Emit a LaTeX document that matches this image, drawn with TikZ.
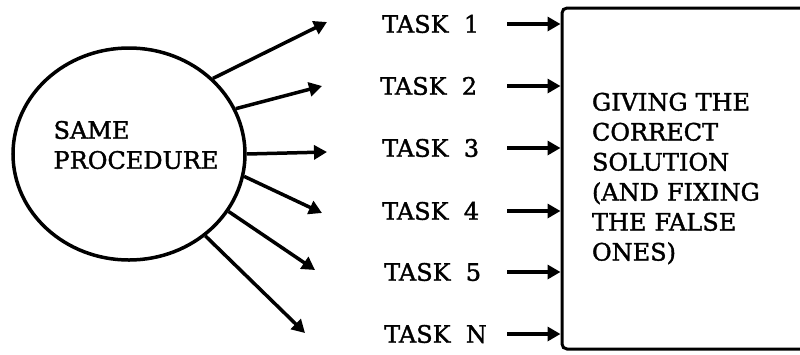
\documentclass[tikz,border=0pt]{standalone}
\usepackage{fontspec}
\setmainfont{DejaVu Serif}[FakeBold=1.5]
\usetikzlibrary{shapes.geometric, arrows.meta, positioning, calc}

\begin{document}
\begin{tikzpicture}[
    x=1pt, y=-1pt,
    font=\fontsize{24}{30}\selectfont,
    proc/.style={ellipse, draw, line width=3.5pt, minimum width=232pt, minimum height=212pt},
    task/.style={anchor=west, inner sep=0pt},
    sol/.style={rectangle, draw, line width=3pt, rounded corners=5pt, minimum width=268pt, minimum height=341pt, inner xsep=30pt, text width=208pt, align=left},
    arrow/.style={-{Triangle[length=13pt,width=14pt]}, line width=3.5pt}
]
\useasboundingbox (0,0) rectangle (800,354);

% Procedure
\node[proc] (proc) at (129,154) {};
\node[align=left, inner sep=0pt] (proclbl) at (136,145) {SAME\\PROCEDURE};

% Free ends of the spokes
\coordinate (e1) at (327,22);
\coordinate (e2) at (322,86);
\coordinate (e3) at (327,152);
\coordinate (e4) at (322,213);
\coordinate (e5) at (315,270);
\coordinate (e6) at (305,333);

% Tasks
\node[task] (t1) at (382,24) {TASK\ \ 1};
\node[task] (t2) at (380,86) {TASK\ \ 2};
\node[task] (t3) at (382,148) {TASK\ \ 3};
\node[task] (t4) at (382,211) {TASK\ \ 4};
\node[task] (t5) at (384,272) {TASK\ \ 5};
\node[task] (t6) at (384,334) {TASK\ \ N};

% Solution
\node[sol] (sol) at (696,178.5) {GIVING THE\\CORRECT\\SOLUTION\\(AND FIXING\\THE FALSE\\ONES)};

% Arrows
\draw[arrow] (proc.42) -- (e1);
\draw[arrow] (proc.23) -- (e2);
\draw[arrow] (proc.0) -- (e3);
\draw[arrow] (proc.-11) -- (e4);
\draw[arrow] (proc.-30) -- (e5);
\draw[arrow] (proc.-47) -- (e6);
\foreach \t in {t1,t2,t3,t4,t5,t6}
  \draw[arrow] (\t.east -| 507,0) -- (\t.east -| sol.west);

\end{tikzpicture}
\end{document}
